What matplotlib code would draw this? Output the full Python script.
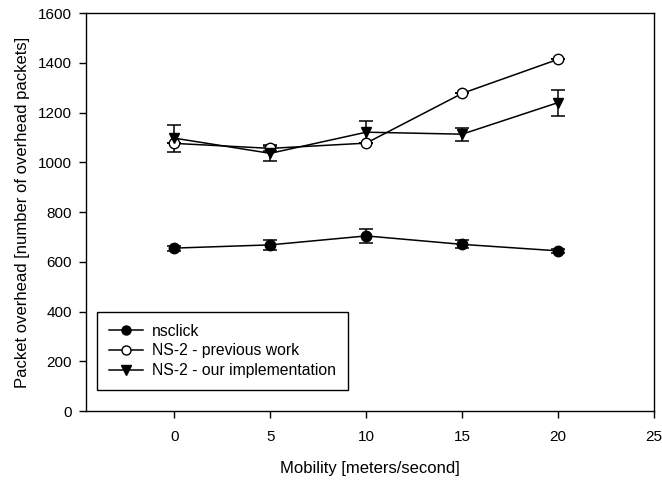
import matplotlib
matplotlib.use("Agg")
import matplotlib.pyplot as plt
from matplotlib.lines import Line2D

plt.rcParams['font.family'] = ['Liberation Sans', 'DejaVu Sans']

mobility = [0, 5, 10, 15, 20]
nsclick = [655, 668, 704, 670, 644]
nsclick_err = [10, 20, 27, 16, 9]
prev_work = [1076, 1056, 1077, 1277, 1414]
prev_err = [0, 10, 0, 0, 0]
ours = [1097, 1036, 1121, 1113, 1240]
ours_err = [54, 32, 44, 26, 52]
labels = ['nsclick', 'NS-2 - previous work', 'NS-2 - our implementation']

fig = plt.figure(figsize=(6.62, 4.83), dpi=100)
ax = fig.add_axes([0.130, 0.149, 0.858, 0.824])

common = dict(color='black', lw=1.1, capsize=5, elinewidth=1.1, capthick=1.1, markersize=7.5)
ax.errorbar(mobility, nsclick, yerr=nsclick_err, marker='o', mfc='black', mec='black', **common)
ax.errorbar(mobility, prev_work, yerr=prev_err, marker='o', mfc='white', mec='black', **common)
ax.errorbar(mobility, ours, yerr=ours_err, marker='v', mfc='black', mec='black', **common)

ax.set_xlim(-4.6, 25)
ax.set_ylim(0, 1600)
ax.set_xticks([0, 5, 10, 15, 20, 25])
ax.set_yticks(range(0, 1601, 200))
ax.tick_params(direction='out', length=5, width=1, labelsize=11)
ax.tick_params(axis='x', pad=9)
ax.tick_params(axis='y', pad=5)
for s in ax.spines.values():
    s.set_linewidth(1)

ax.set_xlabel('Mobility [meters/second]', fontsize=12, labelpad=12)
ax.set_ylabel('Packet overhead [number of overhead packets]', fontsize=12, labelpad=6)

handles = [
    Line2D([], [], color='black', lw=1.1, marker='o', mfc='black', mec='black', markersize=6.5),
    Line2D([], [], color='black', lw=1.1, marker='o', mfc='white', mec='black', markersize=6.5),
    Line2D([], [], color='black', lw=1.1, marker='v', mfc='black', mec='black', markersize=6.5),
]
leg = ax.legend(handles, labels, loc='lower left', bbox_to_anchor=(0.019, 0.053), fontsize=11.3,
                frameon=True, fancybox=False, edgecolor='black', framealpha=1,
                borderaxespad=0, handlelength=2.2, labelspacing=0.3, borderpad=0.75,
                handletextpad=0.55)
leg.get_frame().set_linewidth(1)

fig.savefig('out.png', dpi=100)
